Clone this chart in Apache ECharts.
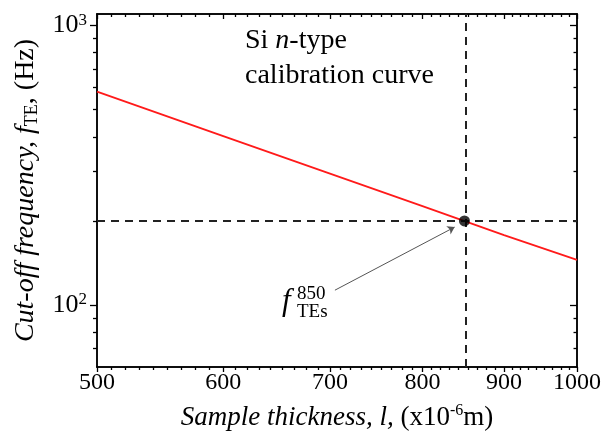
<!DOCTYPE html>
<html>
<head>
<meta charset="utf-8">
<script src="https://cdn.jsdelivr.net/npm/echarts@6/dist/echarts.min.js"></script>
<style>
html, body { margin: 0; padding: 0; background: #fff; }
#main { width: 606px; height: 436px; }
</style>
</head>
<body>
<div id="main"></div>
<script>
// Si n-type calibration curve (log-log)
var thickness = [500, 600, 700, 800, 900, 1000];   // x10^-6 m
var cutoff = [580, 402, 295, 226, 178, 145];        // Hz
var markThickness = 850;
var markFreq = 200;
var xRange = [500, 1000];
var yRange = [60, 1100];
var xTicks = [500, 600, 700, 800, 900, 1000];
var yTicks = [100, 1000];
var yMinorTicks = [70, 80, 90, 200, 300, 400, 500, 600, 700, 800, 900];
// arrow of the f_TEs annotation, tail -> head
var arrowFrom = [705, 113];
var arrowTo = [838, 190];

var lg = Math.log10;
var FONT = '"Liberation Serif", "Times New Roman", serif';

// minor ticks: 8 between each pair of major x ticks
var xMinorTicks = [];
for (var i = 0; i < xTicks.length - 1; i++) {
    var a = lg(xTicks[i]), b = lg(xTicks[i + 1]);
    for (var k = 1; k <= 8; k++) {
        xMinorTicks.push(a + k / 9 * (b - a));
    }
}

var axisColor = '#000';

function tickAxis(dim, position, values, len, inside, extra) {
    var range = dim === 'x' ? xRange : yRange;
    var axis = {
        type: 'value',
        position: position,
        min: lg(range[0]),
        max: lg(range[1]),
        axisLine: { show: true, onZero: false, lineStyle: { color: axisColor, width: 1.5 } },
        axisTick: { show: true, customValues: values, length: len, inside: inside,
            lineStyle: { color: axisColor, width: 1.3 } },
        axisLabel: { show: false },
        splitLine: { show: false }
    };
    if (extra) {
        for (var key in extra) axis[key] = extra[key];
    }
    return axis;
}

var chart = echarts.init(document.getElementById('main'));

var option = {
    backgroundColor: '#fff',
    animation: false,
    grid: { left: 97, right: 29, top: 14, bottom: 69, outerBoundsMode: 'none' },
    xAxis: [
        tickAxis('x', 'bottom', xTicks.map(lg), 5, false, {
            axisLabel: {
                show: true,
                customValues: xTicks.map(lg),
                formatter: function (v) { return String(Math.round(Math.pow(10, v))); },
                fontFamily: FONT, fontSize: 24, color: '#000', margin: 4
            },
            name: '{i|Sample thickness, l,} {r|(x10}{s|-6}{r|m)}',
            nameLocation: 'middle',
            nameGap: 36,
            nameTextStyle: {
                fontFamily: FONT, fontSize: 27, color: '#000',
                rich: {
                    i: { fontFamily: FONT, fontStyle: 'italic', fontSize: 27, lineHeight: 30 },
                    r: { fontFamily: FONT, fontSize: 27, lineHeight: 30 },
                    s: { fontFamily: FONT, fontSize: 16, lineHeight: 16, verticalAlign: 'top' }
                }
            }
        }),
        tickAxis('x', 'bottom', xMinorTicks, 3, false),
        tickAxis('x', 'top', xTicks.map(lg), 5, true),
        tickAxis('x', 'top', xMinorTicks, 3, true)
    ],
    yAxis: [
        tickAxis('y', 'left', yTicks.map(lg), 7, false, {
            axisLabel: {
                show: true,
                customValues: yTicks.map(lg),
                formatter: function (v) { return '{b|10}{s|' + Math.round(v) + '}'; },
                margin: 10,
                rich: {
                    b: { fontFamily: FONT, fontSize: 26, color: '#000', lineHeight: 28 },
                    s: { fontFamily: FONT, fontSize: 17, color: '#000', lineHeight: 17, verticalAlign: 'top' }
                }
            },
            name: '{i|Cut-off frequency, f}{t|TE}{r|, (Hz)}',
            nameLocation: 'middle',
            nameGap: 54,
            nameTextStyle: {
                fontFamily: FONT, fontSize: 28, color: '#000',
                rich: {
                    i: { fontFamily: FONT, fontStyle: 'italic', fontSize: 28, lineHeight: 32 },
                    r: { fontFamily: FONT, fontSize: 28, lineHeight: 32 },
                    t: { fontFamily: FONT, fontSize: 18, lineHeight: 17, verticalAlign: 'bottom' }
                }
            }
        }),
        tickAxis('y', 'left', yMinorTicks.map(lg), 4, false),
        tickAxis('y', 'right', yTicks.map(lg), 7, true),
        tickAxis('y', 'right', yMinorTicks.map(lg), 3.5, true)
    ],
    series: [
        {
            type: 'line',
            xAxisIndex: 0,
            yAxisIndex: 0,
            data: thickness.map(function (t, i) { return [lg(t), lg(cutoff[i])]; }),
            showSymbol: false,
            symbol: 'none',
            lineStyle: { color: '#ff1a1a', width: 1.8 },
            z: 3,
            markLine: {
                silent: true,
                symbol: 'none',
                label: { show: false },
                lineStyle: { color: '#222', width: 2, type: [8, 6] },
                data: [
                    { xAxis: lg(markThickness) },
                    { yAxis: lg(markFreq) }
                ]
            }
        },
        {
            type: 'scatter',
            xAxisIndex: 0,
            yAxisIndex: 0,
            data: [[lg(markThickness), lg(markFreq)]],
            symbolSize: 11,
            itemStyle: { color: '#000' },
            z: 5,
            markLine: {
                silent: true,
                symbol: ['none', 'arrow'],
                symbolSize: 7,
                label: { show: false },
                lineStyle: { color: '#555', width: 1, type: 'solid' },
                data: [[
                    { coord: [lg(arrowFrom[0]), lg(arrowFrom[1])] },
                    { coord: [lg(arrowTo[0]), lg(arrowTo[1])] }
                ]]
            }
        }
    ],
    graphic: [
        {
            type: 'text',
            left: 245,
            top: 27,
            style: {
                text: '{r|Si }{i|n}{r|-type}\n{r|calibration curve}',
                fill: '#000',
                rich: {
                    r: { fontFamily: FONT, fontSize: 28, lineHeight: 35, fill: '#000' },
                    i: { fontFamily: FONT, fontStyle: 'italic', fontSize: 28, lineHeight: 35, fill: '#000' }
                }
            }
        },
        {
            type: 'text',
            x: 282,
            y: 302,
            style: { text: 'f', font: 'italic 31px ' + FONT, fill: '#000', verticalAlign: 'middle' }
        },
        {
            type: 'text',
            x: 297,
            y: 294,
            style: { text: '850', font: '19px ' + FONT, fill: '#000', verticalAlign: 'middle' }
        },
        {
            type: 'text',
            x: 297,
            y: 312,
            style: { text: 'TEs', font: '19px ' + FONT, fill: '#000', verticalAlign: 'middle' }
        }
    ]
};

chart.setOption(option);
</script>
</body>
</html>
